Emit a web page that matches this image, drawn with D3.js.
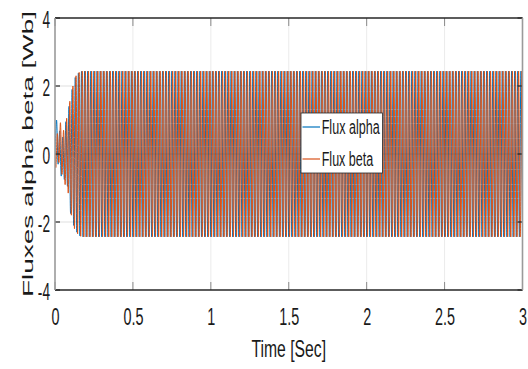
<!DOCTYPE html>
<html>
<head>
<meta charset="utf-8">
<script src="https://cdn.jsdelivr.net/npm/d3@7"></script>
<style>
  html, body { margin: 0; padding: 0; background: #fff; }
  svg { display: block; }
  text { font-family: "Liberation Sans", Arial, Helvetica, sans-serif; fill: #1a1a1a; }
</style>
</head>
<body>
<script>
// ---------------- DATA ----------------
const xTicks = [0, 0.5, 1, 1.5, 2, 2.5, 3];
const xTickLabels = ["0", "0.5", "1", "1.5", "2", "2.5", "3"];
const yTicks = [-4, -2, 0, 2, 4];
const yTickLabels = ["-4", "-2", "0", "2", "4"];
const seriesNames = ["Flux alpha", "Flux beta"];
const xLabel = "Time [Sec]";
const yLabel = "Fluxes alpha beta [Wb]";

// Both fluxes start at zero at t = 0
const startPoint = { t: 0, v: 0 };
// Successive extrema (alternating max / min) of each 50 Hz flux
const halfPeriod = 0.01;      // s between successive extrema (50 Hz)
const alphaFirstPeak = 0.01;  // s, time of first alpha extremum
const betaFirstPeak = 0.005;  // s, time of first beta extremum

const alphaPeaks = [
  1.0, -0.3, 0.68, -0.65, 0.5, -0.75, 0.95, -0.95, 1.4, -1.75,
  1.9, -2.1, 2.25, -2.3, 2.38, -2.41, 2.43, -2.44,
  2.44,-2.44, 2.44,-2.44, 2.44,-2.44, 2.44,-2.44, 2.44,-2.44, 2.44,-2.44, 2.44,-2.44, 2.44,-2.44, 2.44,-2.44, 2.44,-2.44,
  2.44,-2.44, 2.44,-2.44, 2.44,-2.44, 2.44,-2.44, 2.44,-2.44, 2.44,-2.44, 2.44,-2.44, 2.44,-2.44, 2.44,-2.44, 2.44,-2.44,
  2.44,-2.44, 2.44,-2.44, 2.44,-2.44, 2.44,-2.44, 2.44,-2.44, 2.44,-2.44, 2.44,-2.44, 2.44,-2.44, 2.44,-2.44, 2.44,-2.44,
  2.44,-2.44, 2.44,-2.44, 2.44,-2.44, 2.44,-2.44, 2.44,-2.44, 2.44,-2.44, 2.44,-2.44, 2.44,-2.44, 2.44,-2.44, 2.44,-2.44,
  2.44,-2.44, 2.44,-2.44, 2.44,-2.44, 2.44,-2.44, 2.44,-2.44, 2.44,-2.44, 2.44,-2.44, 2.44,-2.44, 2.44,-2.44, 2.44,-2.44,
  2.44,-2.44, 2.44,-2.44, 2.44,-2.44, 2.44,-2.44, 2.44,-2.44, 2.44,-2.44, 2.44,-2.44, 2.44,-2.44, 2.44,-2.44, 2.44,-2.44,
  2.44,-2.44, 2.44,-2.44, 2.44,-2.44, 2.44,-2.44, 2.44,-2.44, 2.44,-2.44, 2.44,-2.44, 2.44,-2.44, 2.44,-2.44, 2.44,-2.44,
  2.44,-2.44, 2.44,-2.44, 2.44,-2.44, 2.44,-2.44, 2.44,-2.44, 2.44,-2.44, 2.44,-2.44, 2.44,-2.44, 2.44,-2.44, 2.44,-2.44,
  2.44,-2.44, 2.44,-2.44, 2.44,-2.44, 2.44,-2.44, 2.44,-2.44, 2.44,-2.44, 2.44,-2.44, 2.44,-2.44, 2.44,-2.44, 2.44,-2.44,
  2.44,-2.44, 2.44,-2.44, 2.44,-2.44, 2.44,-2.44, 2.44,-2.44, 2.44,-2.44, 2.44,-2.44, 2.44,-2.44, 2.44,-2.44, 2.44,-2.44,
  2.44,-2.44, 2.44,-2.44, 2.44,-2.44, 2.44,-2.44, 2.44,-2.44, 2.44,-2.44, 2.44,-2.44, 2.44,-2.44, 2.44,-2.44, 2.44,-2.44,
  2.44,-2.44, 2.44,-2.44, 2.44,-2.44, 2.44,-2.44, 2.44,-2.44, 2.44,-2.44, 2.44,-2.44, 2.44,-2.44, 2.44,-2.44, 2.44,-2.44,
  2.44,-2.44, 2.44,-2.44, 2.44,-2.44, 2.44,-2.44, 2.44,-2.44, 2.44,-2.44, 2.44,-2.44, 2.44,-2.44, 2.44,-2.44, 2.44,-2.44,
  2.44,-2.44, 2.44,-2.44, 2.44,-2.44, 2.44,-2.44, 2.44,-2.44, 2.44,-2.44, 2.44,-2.44, 2.44,-2.44, 2.44,-2.44, 2.44,-2.44,
  2.44,-2.44
];

const betaPeaks = [
  -0.4, 0.6, -0.25, 0.92, -0.6, 0.7, -0.9, 1.05, -1.15, 1.55,
  -1.8, 2.0, -2.2, 2.3, -2.35, 2.4, -2.42, 2.44,
  -2.44,2.44, -2.44,2.44, -2.44,2.44, -2.44,2.44, -2.44,2.44, -2.44,2.44, -2.44,2.44, -2.44,2.44, -2.44,2.44, -2.44,2.44,
  -2.44,2.44, -2.44,2.44, -2.44,2.44, -2.44,2.44, -2.44,2.44, -2.44,2.44, -2.44,2.44, -2.44,2.44, -2.44,2.44, -2.44,2.44,
  -2.44,2.44, -2.44,2.44, -2.44,2.44, -2.44,2.44, -2.44,2.44, -2.44,2.44, -2.44,2.44, -2.44,2.44, -2.44,2.44, -2.44,2.44,
  -2.44,2.44, -2.44,2.44, -2.44,2.44, -2.44,2.44, -2.44,2.44, -2.44,2.44, -2.44,2.44, -2.44,2.44, -2.44,2.44, -2.44,2.44,
  -2.44,2.44, -2.44,2.44, -2.44,2.44, -2.44,2.44, -2.44,2.44, -2.44,2.44, -2.44,2.44, -2.44,2.44, -2.44,2.44, -2.44,2.44,
  -2.44,2.44, -2.44,2.44, -2.44,2.44, -2.44,2.44, -2.44,2.44, -2.44,2.44, -2.44,2.44, -2.44,2.44, -2.44,2.44, -2.44,2.44,
  -2.44,2.44, -2.44,2.44, -2.44,2.44, -2.44,2.44, -2.44,2.44, -2.44,2.44, -2.44,2.44, -2.44,2.44, -2.44,2.44, -2.44,2.44,
  -2.44,2.44, -2.44,2.44, -2.44,2.44, -2.44,2.44, -2.44,2.44, -2.44,2.44, -2.44,2.44, -2.44,2.44, -2.44,2.44, -2.44,2.44,
  -2.44,2.44, -2.44,2.44, -2.44,2.44, -2.44,2.44, -2.44,2.44, -2.44,2.44, -2.44,2.44, -2.44,2.44, -2.44,2.44, -2.44,2.44,
  -2.44,2.44, -2.44,2.44, -2.44,2.44, -2.44,2.44, -2.44,2.44, -2.44,2.44, -2.44,2.44, -2.44,2.44, -2.44,2.44, -2.44,2.44,
  -2.44,2.44, -2.44,2.44, -2.44,2.44, -2.44,2.44, -2.44,2.44, -2.44,2.44, -2.44,2.44, -2.44,2.44, -2.44,2.44, -2.44,2.44,
  -2.44,2.44, -2.44,2.44, -2.44,2.44, -2.44,2.44, -2.44,2.44, -2.44,2.44, -2.44,2.44, -2.44,2.44, -2.44,2.44, -2.44,2.44,
  -2.44,2.44, -2.44,2.44, -2.44,2.44, -2.44,2.44, -2.44,2.44, -2.44,2.44, -2.44,2.44, -2.44,2.44, -2.44,2.44, -2.44,2.44,
  -2.44,2.44, -2.44,2.44, -2.44,2.44, -2.44,2.44, -2.44,2.44, -2.44,2.44, -2.44,2.44, -2.44,2.44, -2.44,2.44, -2.44,2.44,
  -2.44,2.44
];

// ---------------- LAYOUT ----------------
const W = 528, H = 369;
const plot = { left: 55, right: 522.5, top: 18, bottom: 290 };
const colors = ["#0072BD", "#D95319"];

const svg = d3.select("body").append("svg").attr("width", W).attr("height", H);

const x = d3.scaleLinear().domain([0, 3]).range([plot.left, plot.right]);
const y = d3.scaleLinear().domain([-4, 4]).range([plot.bottom, plot.top]);

svg.append("defs").append("clipPath").attr("id", "clip")
  .append("rect").attr("x", plot.left).attr("y", plot.top)
  .attr("width", plot.right - plot.left).attr("height", plot.bottom - plot.top);

// Build point lists from the extrema
function toPoints(peaks, first) {
  return [startPoint].concat(peaks.map((v, i) => ({ t: first + i * halfPeriod, v })));
}
const series = [
  toPoints(alphaPeaks, alphaFirstPeak),
  toPoints(betaPeaks, betaFirstPeak)
];

const lineGen = d3.line().x(d => x(d.t)).y(d => y(d.v)).curve(d3.curveMonotoneX);

const dataG = svg.append("g").attr("clip-path", "url(#clip)");
series.forEach((s, i) => {
  dataG.append("path").datum(s)
    .attr("d", lineGen)
    .attr("fill", "none")
    .attr("stroke", colors[i])
    .attr("stroke-width", 1);
});

// Grid
const gridG = svg.append("g");
gridG.selectAll("line.gx").data(xTicks.slice(1, -1)).join("line")
  .attr("x1", d => x(d)).attr("x2", d => x(d))
  .attr("y1", plot.top).attr("y2", plot.bottom)
  .attr("stroke", "#262626").attr("stroke-opacity", 0.09).attr("stroke-width", 1);
gridG.selectAll("line.gy").data(yTicks.slice(1, -1)).join("line")
  .attr("y1", d => y(d)).attr("y2", d => y(d))
  .attr("x1", plot.left).attr("x2", plot.right)
  .attr("stroke", "#262626").attr("stroke-opacity", 0.15).attr("stroke-width", 1);

// Axes (labels via d3 axis)
const xAxis = d3.axisBottom(x).tickValues(xTicks).tickFormat((d, i) => xTickLabels[i]).tickSize(0);
const gx = svg.append("g").attr("transform", `translate(0,${plot.bottom})`).call(xAxis);
gx.select(".domain").remove();
gx.selectAll("text")
  .attr("y", null).attr("dy", null)
  .attr("transform", "translate(0,35) scale(0.6,1)")
  .attr("font-size", 24).attr("font-family", "Liberation Sans, Arial, sans-serif")
  .attr("fill", "#1a1a1a").attr("text-anchor", "middle");

const yAxis = d3.axisLeft(y).tickValues(yTicks).tickFormat((d, i) => yTickLabels[i]).tickSize(0);
const gy = svg.append("g").attr("transform", `translate(${plot.left},0)`).call(yAxis);
gy.select(".domain").remove();
gy.selectAll("text")
  .attr("x", null).attr("dy", null)
  .attr("transform", "translate(-5,9) scale(0.57,1)")
  .attr("font-size", 24).attr("font-family", "Liberation Sans, Arial, sans-serif")
  .attr("fill", "#1a1a1a").attr("text-anchor", "end");

// Inside tick marks on all sides
const tickG = svg.append("g");
tickG.selectAll("line.tb").data(xTicks).join("line")
  .attr("x1", d => x(d)).attr("x2", d => x(d))
  .attr("y1", plot.bottom).attr("y2", plot.bottom - 8)
  .attr("stroke", "#8a8a8a").attr("stroke-width", 1);
tickG.selectAll("line.tt").data(xTicks).join("line")
  .attr("x1", d => x(d)).attr("x2", d => x(d))
  .attr("y1", plot.top).attr("y2", plot.top + 8)
  .attr("stroke", "#8a8a8a").attr("stroke-width", 1);
tickG.selectAll("line.tl").data(yTicks).join("line")
  .attr("x1", plot.left).attr("x2", plot.left + 5)
  .attr("y1", d => y(d)).attr("y2", d => y(d))
  .attr("stroke", "#262626").attr("stroke-width", 1.2);
tickG.selectAll("line.tr").data(yTicks).join("line")
  .attr("x1", plot.right).attr("x2", plot.right - 5)
  .attr("y1", d => y(d)).attr("y2", d => y(d))
  .attr("stroke", "#262626").attr("stroke-width", 1.2);

// Box
svg.append("line").attr("x1", plot.left).attr("x2", plot.right).attr("y1", plot.top).attr("y2", plot.top)
  .attr("stroke", "#262626").attr("stroke-width", 1.3);
svg.append("line").attr("x1", plot.left).attr("x2", plot.right).attr("y1", plot.bottom).attr("y2", plot.bottom)
  .attr("stroke", "#262626").attr("stroke-width", 1.3);
svg.append("line").attr("x1", plot.left).attr("x2", plot.left).attr("y1", plot.top).attr("y2", plot.bottom)
  .attr("stroke", "#9a9a9a").attr("stroke-width", 1.6);
svg.append("line").attr("x1", plot.right).attr("x2", plot.right).attr("y1", plot.top).attr("y2", plot.bottom)
  .attr("stroke", "#9a9a9a").attr("stroke-width", 1.6);

// Axis titles
svg.append("text")
  .attr("transform", `translate(${(plot.left + plot.right) / 2},356.5) scale(0.675,1)`)
  .attr("text-anchor", "middle").attr("font-size", 23.3)
  .text(xLabel);
svg.append("text")
  .attr("transform", `translate(33,${(plot.top + plot.bottom) / 2}) rotate(-90) scale(1,0.55)`)
  .attr("text-anchor", "middle").attr("font-size", 28).attr("fill", "#2a2a2a")
  .text(yLabel);

// Legend
const lg = svg.append("g");
lg.append("rect").attr("x", 301).attr("y", 113).attr("width", 81.5).attr("height", 60)
  .attr("fill", "#fff").attr("stroke", "#262626").attr("stroke-width", 0.8);
const legendRows = [127, 159];
const legendWidths = [58, 51.6];
seriesNames.forEach((name, i) => {
  lg.append("line").attr("x1", 302.5).attr("x2", 320).attr("y1", legendRows[i]).attr("y2", legendRows[i])
    .attr("stroke", colors[i]).attr("stroke-width", 1.2);
  lg.append("text").attr("x", 321.7).attr("y", legendRows[i] + 7)
    .attr("font-size", 19.5).attr("textLength", legendWidths[i]).attr("lengthAdjust", "spacingAndGlyphs")
    .text(name);
});
</script>
</body>
</html>
